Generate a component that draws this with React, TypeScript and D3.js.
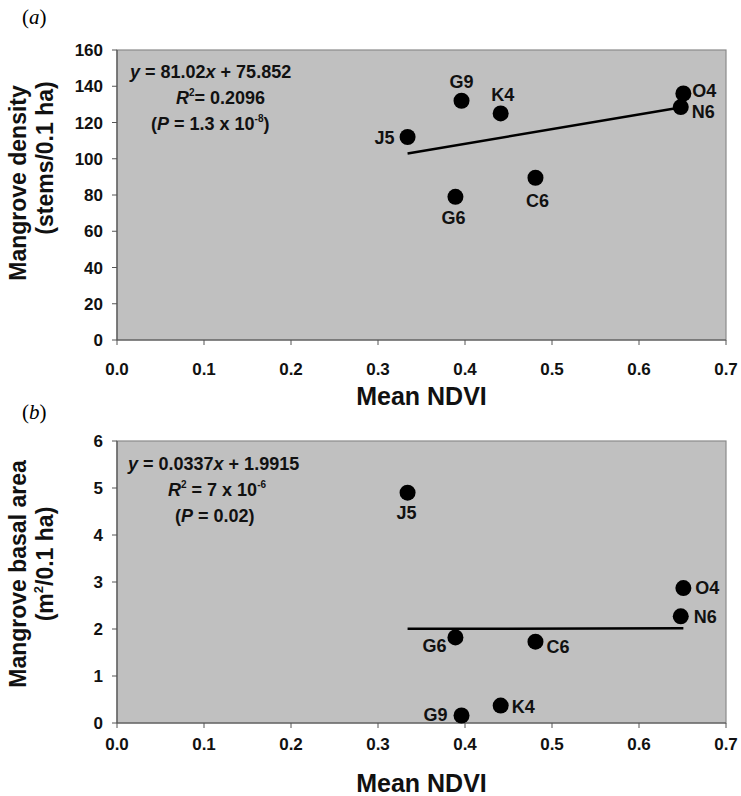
import React from "react";
import * as d3 from "d3";

// Site codes, shared by both panels
const sites = ["J5", "G9", "K4", "C6", "G6", "O4", "N6"];
// Mean NDVI per site
const ndvi = [0.334, 0.396, 0.441, 0.481, 0.389, 0.651, 0.648];
// (a) mangrove density (stems/0.1 ha)
const density = [112, 132, 125, 89.5, 79, 136, 128.5];
// (b) mangrove basal area (m2/0.1 ha)
const basal = [4.9, 0.16, 0.37, 1.73, 1.82, 2.87, 2.27];

const xTicks = [0, 0.1, 0.2, 0.3, 0.4, 0.5, 0.6, 0.7];
const densityTicks = [0, 20, 40, 60, 80, 100, 120, 140, 160];
const basalTicks = [0, 1, 2, 3, 4, 5, 6];

// regression coefficients
const fitA = { slope: 81.02, intercept: 75.852 };
const fitB = { slope: 0.0337, intercept: 1.9915 };

const labelPosA: Record<string, [number, number, string]> = {
  J5: [-13, 7, "end"],
  G9: [0, -13, "middle"],
  K4: [2, -12, "middle"],
  C6: [2, 29, "middle"],
  G6: [-2, 27, "middle"],
  O4: [9, 3, "start"],
  N6: [11, 11, "start"],
};
const labelPosB: Record<string, [number, number, string]> = {
  J5: [-1, 26, "middle"],
  G9: [-14, 6, "end"],
  K4: [11, 7, "start"],
  C6: [11, 11, "start"],
  G6: [-9, 15, "end"],
  O4: [12, 6, "start"],
  N6: [13, 7, "start"],
};

const font = "'Liberation Sans', Arial, sans-serif";

function Panel({ top, bottom, yDomain, yTicks, values, fit, labelPos, eq, ytitle, tickDy, titleDy, yTitleC }: any) {
  const left = 117, right = 726;
  const x = d3.scaleLinear().domain([0, 0.7]).range([left, right]);
  const y = d3.scaleLinear().domain(yDomain).range([bottom, top]);
  const xs = d3.extent(ndvi) as [number, number];
  const line = d3.line<number>().x((d) => x(d)).y((d) => y(fit.slope * d + fit.intercept));
  return (
    <g>
      <rect x={left} y={top} width={right - left} height={bottom - top} fill="#c0c0c0" stroke="#8a8a8a" strokeWidth={1.2} />
      <line x1={left} x2={left} y1={top} y2={bottom} stroke="#555" strokeWidth={1.2} />
      <line x1={left} x2={right} y1={bottom} y2={bottom} stroke="#555" strokeWidth={1.2} />
      {xTicks.map((t) => (
        <g key={t}>
          <line x1={x(t)} x2={x(t)} y1={bottom} y2={bottom + 5} stroke="#555" />
          <text x={x(t)} y={bottom + tickDy} textAnchor="middle" fontSize={17} fontWeight="bold" fontFamily={font} fill="#111">
            {t.toFixed(1)}
          </text>
        </g>
      ))}
      {yTicks.map((t: number) => (
        <g key={t}>
          <line x1={left - 5} x2={left} y1={y(t)} y2={y(t)} stroke="#555" />
          <text x={left - 14} y={y(t) + 6} textAnchor="end" fontSize={17} fontWeight="bold" fontFamily={font} fill="#111">
            {t}
          </text>
        </g>
      ))}
      <path d={line(xs) || ""} stroke="#000" strokeWidth={2.5} fill="none" />
      {sites.map((s, i) => {
        const [dx, dy, anchor] = labelPos[s];
        return (
          <g key={s}>
            <circle cx={x(ndvi[i])} cy={y(values[i])} r={8} fill="#000" />
            <text x={x(ndvi[i]) + dx} y={y(values[i]) + dy} textAnchor={anchor} fontSize={18} fontWeight="bold" fontFamily={font} fill="#111">
              {s}
            </text>
          </g>
        );
      })}
      {eq}
      <text x={(left + right) / 2} y={bottom + titleDy} textAnchor="middle" fontSize={25} fontWeight="bold" fontFamily={font} fill="#111">
        Mean NDVI
      </text>
      <text transform={`translate(26,${yTitleC[0]}) rotate(-90)`} textAnchor="middle" fontSize={23} fontWeight="bold" fontFamily={font} fill="#111">
        {ytitle[0]}
      </text>
      <text transform={`translate(53,${yTitleC[1]}) rotate(-90)`} textAnchor="middle" fontSize={23} fontWeight="bold" fontFamily={font} fill="#111">
        {ytitle[1]}
      </text>
    </g>
  );
}

export default function App() {
  const t = { fontSize: 18, fontWeight: "bold", fontFamily: font, fill: "#111" } as any;
  const eqA = (
    <g>
      <text x={130} y={78} {...t}>
        <tspan fontStyle="italic">y</tspan> = 81.02<tspan fontStyle="italic">x</tspan> + 75.852
      </text>
      <text x={176} y={104} {...t}>
        <tspan fontStyle="italic">R</tspan>
        <tspan fontSize={10} dy={-8}>2</tspan>
        <tspan dy={8}>= 0.2096</tspan>
      </text>
      <text x={151} y={130} {...t}>
        (<tspan fontStyle="italic">P</tspan> = 1.3 x 10
        <tspan fontSize={10} dy={-8}>-8</tspan>
        <tspan dy={8}>)</tspan>
      </text>
    </g>
  );
  const eqB = (
    <g>
      <text x={128} y={470} {...t}>
        <tspan fontStyle="italic">y</tspan> = 0.0337<tspan fontStyle="italic">x</tspan> + 1.9915
      </text>
      <text x={168} y={496} {...t}>
        <tspan fontStyle="italic">R</tspan>
        <tspan fontSize={10} dy={-8}>2</tspan>
        <tspan dy={8}> = 7 x 10</tspan>
        <tspan fontSize={10} dy={-8}>-6</tspan>
      </text>
      <text x={175} y={522} {...t}>
        (<tspan fontStyle="italic">P</tspan> = 0.02)
      </text>
    </g>
  );
  return (
    <svg width={741} height={796} style={{ position: "absolute", left: 0, top: 0, background: "#fff" }}>
      <text x={22} y={24} fontSize={21} fontFamily="'Liberation Serif', 'Times New Roman', serif">
        (<tspan fontStyle="italic">a</tspan>)
      </text>
      <text x={22} y={419} fontSize={21} fontFamily="'Liberation Serif', 'Times New Roman', serif">
        (<tspan fontStyle="italic">b</tspan>)
      </text>
      <Panel
        top={50}
        bottom={340}
        yDomain={[0, 160]}
        yTicks={densityTicks}
        values={density}
        fit={fitA}
        labelPos={labelPosA}
        eq={eqA}
        ytitle={["Mangrove density", "(stems/0.1 ha)"]}
        tickDy={35}
        titleDy={65}
        yTitleC={[183, 158]}
      />
      <Panel
        top={441}
        bottom={723}
        yDomain={[0, 6]}
        yTicks={basalTicks}
        values={basal}
        fit={fitB}
        labelPos={labelPosB}
        eq={eqB}
        ytitle={["Mangrove basal area", <tspan key="u">(m<tspan fontSize={13} dy={-10}>2</tspan><tspan dy={10}>/0.1 ha)</tspan></tspan>]}
        tickDy={27}
        titleDy={69}
        yTitleC={[574, 564]}
      />
    </svg>
  );
}
